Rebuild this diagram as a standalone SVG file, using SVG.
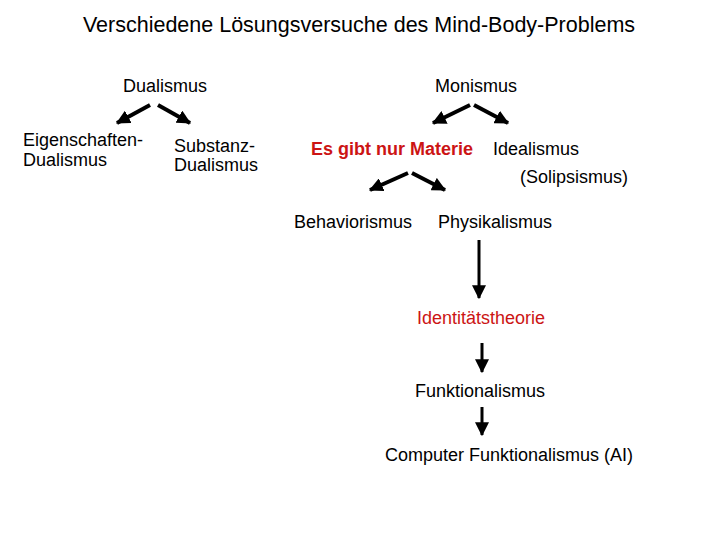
<svg xmlns="http://www.w3.org/2000/svg" width="720" height="540" viewBox="0 0 720 540">
<style>
text{font-family:"Liberation Sans",Arial,sans-serif;font-size:18px;fill:#000}
.title{font-size:21.5px}
.red{fill:#cc1414}
.bold{font-weight:bold}
.c{stroke:#000;stroke-width:4;fill:none}
.v{stroke:#000;stroke-width:3;fill:none}
</style>
<defs>
<marker id="ah" markerUnits="userSpaceOnUse" viewBox="0 0 12 12" refX="11" refY="6" markerWidth="14" markerHeight="14" orient="auto">
<path d="M0,0 L12,6 L0,12 z" fill="#000"/>
</marker>
</defs>
<rect width="720" height="540" fill="#fff"/>
<g id="title"><text class="title" x="359" y="32" text-anchor="middle">Verschiedene Lösungsversuche des Mind-Body-Problems</text></g>
<g id="dualismus"><text x="165" y="92" text-anchor="middle">Dualismus</text></g>
<g id="monismus"><text x="476" y="92" text-anchor="middle">Monismus</text></g>
<g id="eigenschaften"><text x="23" y="146">Eigenschaften-</text><text x="23" y="166">Dualismus</text></g>
<g id="substanz"><text x="174" y="152">Substanz-</text><text x="174" y="171">Dualismus</text></g>
<g id="materie"><text class="red bold" x="311" y="155">Es gibt nur Materie</text></g>
<g id="idealismus"><text x="493" y="155">Idealismus</text></g>
<g id="solipsismus"><text x="520" y="183">(Solipsismus)</text></g>
<g id="behaviorismus"><text x="294" y="228">Behaviorismus</text></g>
<g id="physikalismus"><text x="438" y="228">Physikalismus</text></g>
<g id="identitaet"><text class="red" x="417" y="324">Identitätstheorie</text></g>
<g id="funktionalismus"><text x="415" y="397">Funktionalismus</text></g>
<g id="computer"><text x="385" y="461">Computer Funktionalismus (AI)</text></g>
<g id="connectors">
<line class="c" x1="150" y1="105" x2="117" y2="123" marker-end="url(#ah)"/>
<line class="c" x1="158" y1="105" x2="190" y2="123" marker-end="url(#ah)"/>
<line class="c" x1="470" y1="105" x2="433" y2="123" marker-end="url(#ah)"/>
<line class="c" x1="474" y1="105" x2="508" y2="123" marker-end="url(#ah)"/>
<line class="c" x1="408" y1="173" x2="370" y2="190" marker-end="url(#ah)"/>
<line class="c" x1="412" y1="173" x2="445" y2="190" marker-end="url(#ah)"/>
<line class="v" x1="479" y1="240" x2="479" y2="298" marker-end="url(#ah)"/>
<line class="v" x1="482" y1="343" x2="482" y2="372" marker-end="url(#ah)"/>
<line class="v" x1="482" y1="407" x2="482" y2="435" marker-end="url(#ah)"/>
</g>
</svg>
